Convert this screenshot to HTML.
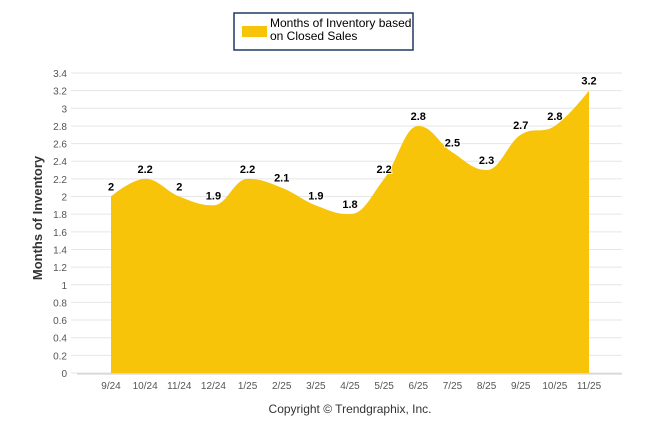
<!DOCTYPE html>
<html><head><meta charset="utf-8"><style>
body{margin:0;background:#fff;font-family:"Liberation Sans",Arial,sans-serif}
svg{display:block}
</style></head><body>
<svg id="c" width="646" height="434">
<rect x="234" y="13" width="179" height="37" fill="#fff" stroke="#1f3864" stroke-width="1.5"/>
<rect x="242" y="26" width="25" height="11" fill="#f7c409"/>
<text x="270" y="27" font-size="12" fill="#000">Months of Inventory based</text>
<text x="270" y="40" font-size="12" fill="#000">on Closed Sales</text>
<g id="grid"></g>
<g id="area"></g>
<g id="labels"></g>
<g id="xt"></g>
<text transform="translate(42,218) rotate(-90)" text-anchor="middle" font-size="13" font-weight="bold" fill="#333">Months of Inventory</text>
<text x="350" y="413" text-anchor="middle" font-size="12" fill="#333">Copyright © Trendgraphix, Inc.</text>
</svg>
<script>
const categories=["9/24","10/24","11/24","12/24","1/25","2/25","3/25","4/25","5/25","6/25","7/25","8/25","9/25","10/25","11/25"];
const values=[2,2.2,2,1.9,2.2,2.1,1.9,1.8,2.2,2.8,2.5,2.3,2.7,2.8,3.2];
const yTicks=[0,0.2,0.4,0.6,0.8,1,1.2,1.4,1.6,1.8,2,2.2,2.4,2.6,2.8,3,3.2,3.4];
const NS="http://www.w3.org/2000/svg";
const y=v=>373-v*(300/3.4);
const x=i=>111+i*(589-111)/(categories.length-1);
function mk(t,a,p){const e=document.createElementNS(NS,t);for(const k in a)e.setAttribute(k,a[k]);p.appendChild(e);return e;}
const g=document.getElementById('grid');
yTicks.forEach(v=>{
 const l=mk('line',{x1:71,x2:622,y1:y(v),y2:y(v),stroke:'#e6e6e6'},g);
 
 
 const t=mk('text',{x:67,y:y(v)+4,'text-anchor':'end','font-size':10,fill:'#555'},g);
 t.textContent=String(v);
 
 
});
const ax=mk('line',{x1:77,x2:622,y1:374,y2:374,stroke:'#ccc'},g);


const n=values.length;const P=values.map((v,i)=>[x(i),y(v)]);
// Highcharts-style spline control points
const L=[],R=[];
for(let i=0;i<n;i++){
 const [px,py]=P[i];
 if(i==0||i==n-1){L[i]=[px,py];R[i]=[px,py];continue;}
 const [lx,ly]=P[i-1],[nx,ny]=P[i+1];
 const sm=1.5,den=sm+1;
 let lcx=(sm*px+lx)/den,lcy=(sm*py+ly)/den,rcx=(sm*px+nx)/den,rcy=(sm*py+ny)/den;
 if(rcx!==lcx){const c=((rcy-lcy)*(rcx-px))/(rcx-lcx)+py-rcy;lcy+=c;rcy+=c;}
 if(lcy>ly&&lcy>py){lcy=Math.max(ly,py);rcy=2*py-lcy;}else if(lcy<ly&&lcy<py){lcy=Math.min(ly,py);rcy=2*py-lcy;}
 if(rcy>ny&&rcy>py){rcy=Math.max(ny,py);lcy=2*py-rcy;}else if(rcy<ny&&rcy<py){rcy=Math.min(ny,py);lcy=2*py-rcy;}
 L[i]=[lcx,lcy];R[i]=[rcx,rcy];
}
let d=`M${P[0][0]},${y(0)} L${P[0][0]},${P[0][1]}`;
for(let i=0;i<n-1;i++){
 d+=` C${R[i][0]},${R[i][1]} ${L[i+1][0]},${L[i+1][1]} ${P[i+1][0]},${P[i+1][1]}`;
}
d+=` L${P[n-1][0]},${y(0)} Z`;
const a=mk('path',{d:d,fill:'#f7c409'},document.getElementById('area'));


const lb=document.getElementById('labels'),xt=document.getElementById('xt');
values.forEach((v,i)=>{
 const t=mk('text',{x:x(i),y:y(v)-6,'text-anchor':'middle','font-size':11,'font-weight':'bold',fill:'#000',stroke:'#fff','stroke-width':2,'paint-order':'stroke'},lb);
 t.textContent=String(v);
 
 
 const c=mk('text',{x:x(i),y:389,'text-anchor':'middle','font-size':10,fill:'#555'},xt);
 c.textContent=categories[i];
 
 
});
</script>
</body></html>
